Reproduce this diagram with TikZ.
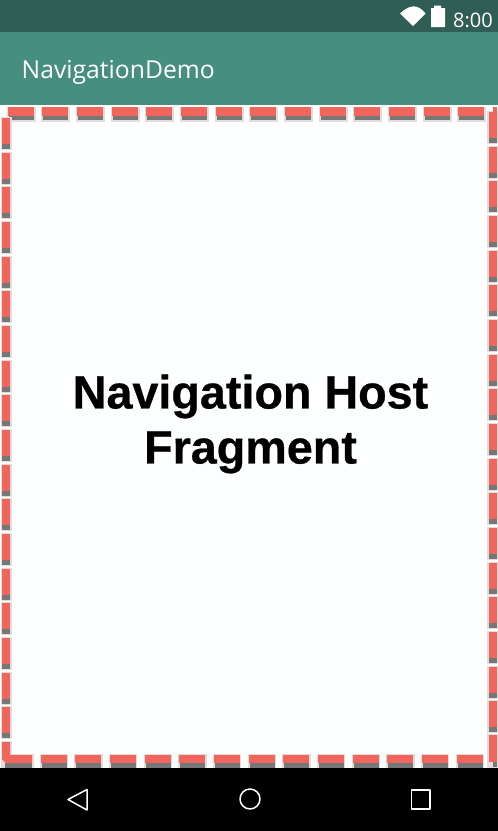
\documentclass[tikz,border=0pt]{standalone}
\usepackage{fontspec}
\setmainfont{Liberation Sans}
\newfontfamily\robotolike{Open Sans}
\newfontfamily\hostfont{Liberation Sans}[BoldFeatures={FakeBold=0.6}]
\definecolor{statusbar}{HTML}{305E54}
\definecolor{appbar}{HTML}{468E80}
\definecolor{hostbg}{HTML}{FCFFFE}
\definecolor{dashred}{HTML}{F2655C}
\definecolor{dashshadow}{HTML}{777777}
\definecolor{halo}{HTML}{E2DDDB}
\tikzset{
  x=1pt,y=-1pt,
  navicon/.style={draw=white,line width=1.5pt,line join=round},
  toplabel/.style={text=white,inner sep=0pt,font=\robotolike},
  hosttext/.style={inner sep=0pt,align=center,text=black,font=\hostfont\bfseries\fontsize{46.7}{55}\selectfont}
}
\begin{document}
\begin{tikzpicture}
\useasboundingbox (0,0) rectangle (498,831);
\fill[hostbg] (0,105) rectangle (498,768);
\fill[statusbar] (0,0) rectangle (498,32);
\fill[appbar] (0,32) rectangle (498,105);
\fill[black] (0,768) rectangle (498,831);
% top dashes
\foreach \i in {0,...,13}{
  \pgfmathsetmacro\xa{7.7+34.67*\i}
  \fill[halo] (\xa-1,107) rectangle (\xa+28,122);
  \fill[dashshadow] (\xa+1,116) rectangle (\xa+26,120);
  \fill[dashred] (\xa,107) rectangle (\xa+26,116);
}
% bottom dashes
\foreach \i in {0,...,12}{
  \pgfmathsetmacro\xa{40.5+34.67*\i}
  \fill[halo] (\xa-1,754) rectangle (\xa+27.5,768);
  \fill[dashshadow] (\xa+1,763) rectangle (\xa+26,768);
  \fill[dashred] (\xa,755) rectangle (\xa+26,763);
}
% left and right dashes
\foreach \i in {0,...,17}{
  \pgfmathsetmacro\ya{118+34.67*\i}
  \fill[halo] (1,\ya-1) rectangle (12,\ya+32);
  \fill[dashshadow] (2,\ya+26) rectangle (10,\ya+31);
  \fill[dashred] (2,\ya) rectangle (10,\ya+26);
  \pgfmathsetmacro\yb{112+34.67*\i}
  \fill[halo] (487,\yb-1) rectangle (498,\yb+32);
  \fill[dashshadow] (489,\yb+26) rectangle (497,\yb+31);
  \fill[dashred] (488.7,\yb) rectangle (497,\yb+26);
}
% top right corner notch
\fill[dashred] (492.5,107) rectangle (497,113);
% bottom corners
\fill[halo] (1,741) rectangle (12,768);
\fill[halo] (1,754) rectangle (33.5,768);
\fill[dashshadow] (5,763) rectangle (32,768);
\fill[dashred] (2,742) -- (10,742) -- (10,755) -- (32,755) -- (32,763) -- (6,763) -- (2,759) -- cycle;
\fill[halo] (487,734) rectangle (498,768);
\fill[dashred] (488.7,735) rectangle (497,762);
\fill[dashshadow] (493,762) rectangle (497,767);
\node[toplabel,anchor=west,font=\robotolike\fontsize{24.7}{28}\selectfont] (title) at (21.5,72) {NavigationDemo};
\node[toplabel,anchor=east,font=\robotolike\fontsize{20}{24}\selectfont] (clock) at (493,20) {8:00};
\fill[white] (400,13.5) .. controls (410,4) and (418,4) .. (425.5,13.5) -- (413,26) -- cycle;
\fill[white] (431,8) -- (434,8) -- (434,5.5) -- (441,5.5) -- (441,8) -- (445,8) -- (445,27) -- (431,27) -- cycle;
\node[hosttext] (host) at (250.5,424) {Navigation Host\\Fragment};
\draw[navicon] (68,799.5) -- (87,789.5) -- (87,810) -- cycle;
\draw[navicon] (250,799) circle (10);
\draw[navicon] (411.5,790) rectangle (430,809);
\end{tikzpicture}
\end{document}
